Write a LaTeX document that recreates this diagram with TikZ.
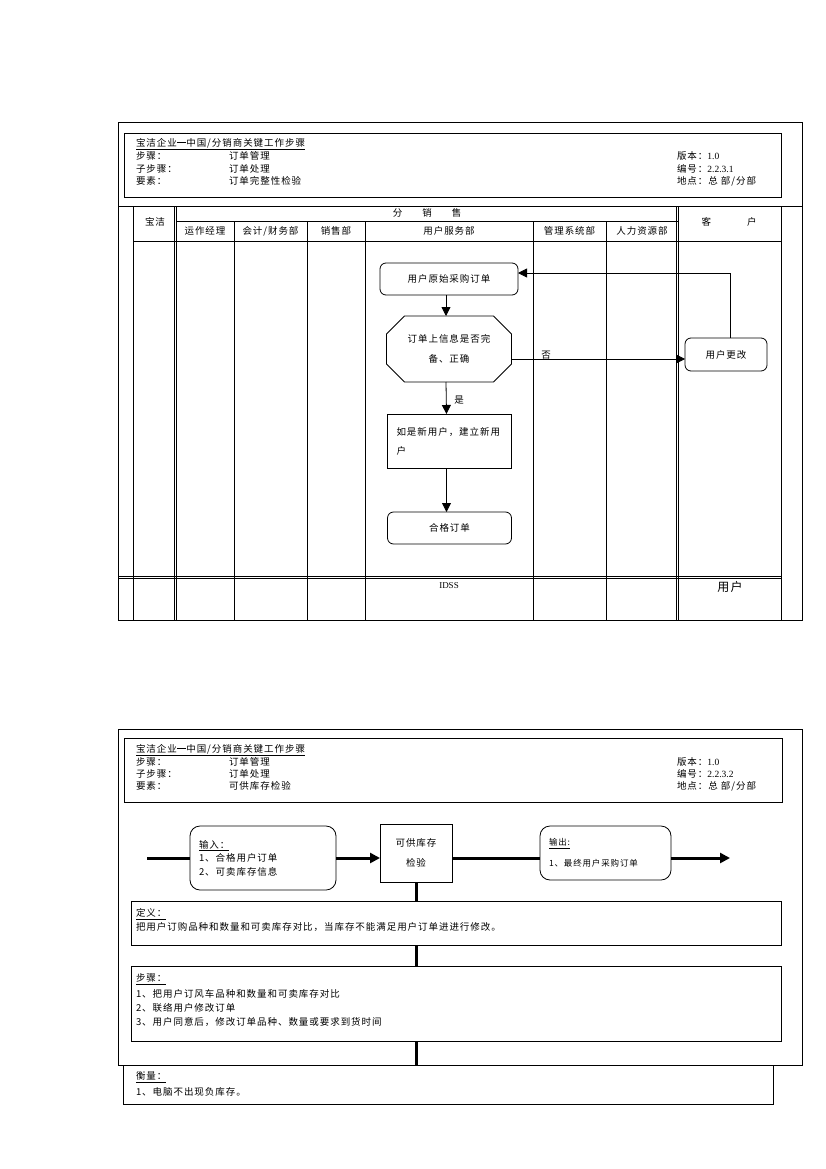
\documentclass[tikz,border=0pt]{standalone}
\usepackage{fontspec}
\setmainfont{Liberation Serif}
\newfontfamily\cjk[LetterSpace=10]{Noto Sans CJK SC}
\newcommand\cjkdash{\rule[0.38em]{1em}{0.45pt}}
\usetikzlibrary{arrows.meta}
\begin{document}
\begin{tikzpicture}[x=1pt,y=-1pt,
  every node/.style={inner sep=0pt, outer sep=0pt},
  txt/.style={anchor=west, font=\cjk\fontsize{9.5}{11}\selectfont},
  ctxt/.style={font=\cjk\fontsize{9.5}{11}\selectfont},
  ln/.style={line width=0.8pt},
  rbox/.style={draw, line width=0.8pt, rounded corners=6pt},
  sbox/.style={draw, line width=0.8pt},
  arr/.style={line width=0.8pt, -{Triangle[length=9pt,width=9pt]}},
  flow/.style={line width=3pt},
  flowarr/.style={line width=3pt, -{Triangle[length=10pt,width=10pt]}}
]
\path[use as bounding box, fill=white] (0,0) rectangle (826,1169);

% ===================== Diagram 1 =====================
\draw[ln] (118,122) rectangle (802,620);
\draw[ln] (124,133) rectangle (781,197);
\node[txt] (a1) at (136,144) {\underline{宝洁企业\cjkdash 中国/分销商关键工作步骤}};
\node[txt] (a2) at (136,156) {步骤：};
\node[txt] (a3) at (229,156) {订单管理};
\node[txt] (a4) at (136,169) {子步骤：};
\node[txt] (a5) at (229,169) {订单处理};
\node[txt] (a6) at (136,181) {要素：};
\node[txt] (a7) at (229,181) {订单完整性检验};
\node[txt] (a8) at (677,156) {版本：\rmfamily 1.0};
\node[txt] (a9) at (677,169) {编号：\rmfamily 2.2.3.1};
\node[txt] (a10) at (677,181) {地点：总 部/分部};

% table grid
\draw[ln] (118,206) -- (802,206);
\draw[ln] (176,221) -- (678,221);
\draw[ln] (133,241) -- (781,241);
\draw[ln] (118,576.5) -- (781,576.5);
\draw[ln] (118,578.5) -- (781,578.5);
\foreach \x in {133,174.5,176.5,676.5,678.5,781}
  \draw[ln] (\x,206) -- (\x,620);
\foreach \x in {234,307,365,533,606}
  \draw[ln] (\x,221) -- (\x,620);

% table headers
\node[ctxt] (b1) at (155,222) {宝洁};
\node[ctxt] (b2) at (427,213) {分\hspace{20pt}销\hspace{20pt}售};
\node[ctxt] (b3) at (205,231) {运作经理};
\node[ctxt] (b4) at (270.5,231) {会计/财务部};
\node[ctxt] (b5) at (336,231) {销售部};
\node[ctxt] (b6) at (449,231) {用户服务部};
\node[ctxt] (b7) at (569.5,231) {管理系统部};
\node[ctxt] (b8) at (642,231) {人力资源部};
\node[ctxt] (b9) at (729,222) {客\hspace{36pt}户};
\node[font=\rmfamily\fontsize{9}{10}\selectfont] (b10) at (449,586) {IDSS};
\node[font=\cjk\fontsize{12}{14}\selectfont] (b11) at (730,587) {用户};

% flowchart
\node[rbox, ctxt, minimum width=138pt, minimum height=32pt] (n1) at (449,279) {用户原始采购订单};
\node[ctxt, align=center, font=\cjk\fontsize{9.5}{20}\selectfont, minimum width=125pt, minimum height=66pt] (n2) at (449,349) {订单上信息是否完\\备、正确};
\draw[ln] ([xshift=18pt]n2.north west) -- ([xshift=-18pt]n2.north east) -- ([yshift=-18pt]n2.north east) -- ([yshift=18pt]n2.south east) -- ([xshift=-18pt]n2.south east) -- ([xshift=18pt]n2.south west) -- ([yshift=18pt]n2.south west) -- ([yshift=-18pt]n2.north west) -- cycle;
\node[sbox, font=\cjk\fontsize{9.5}{19}\selectfont, text width=106pt, align=left, minimum width=124pt, minimum height=54pt] (n3) at (449.5,441) {如是新用户，建立新用\\户};
\node[rbox, ctxt, minimum width=124pt, minimum height=32pt] (n4) at (449.5,528) {合格订单};
\node[rbox, ctxt, minimum width=82pt, minimum height=33pt] (n5) at (726,354.5) {用户更改};

\draw[arr] ([xshift=-3pt]n1.south) -- ([xshift=-3pt]n2.north);
\draw[arr] ([xshift=-3pt]n2.south) -- ([xshift=-3pt]n3.north) node[ctxt, pos=0.55, anchor=west, xshift=8pt] (l1) {是};
\draw[arr] ([xshift=-3pt]n3.south) -- ([xshift=-3pt]n4.north);
\draw[arr] ([yshift=-10pt]n2.east) -- ([yshift=-10pt]n2.east -| n5.west);
\node[ctxt] (l2) at (546,355) {否};
\draw[arr] ([xshift=4.5pt]n5.north) |- ([yshift=6pt]n1.east);

% ===================== Diagram 2 =====================
\draw[ln] (118,729) rectangle (802,1065);
\draw[ln] (124,738) rectangle (782,802);
\node[txt] (c1) at (136,750) {\underline{宝洁企业\cjkdash 中国/分销商关键工作步骤}};
\node[txt] (c2) at (136,762) {步骤：};
\node[txt] (c3) at (229,762) {订单管理};
\node[txt] (c4) at (136,774) {子步骤：};
\node[txt] (c5) at (229,774) {订单处理};
\node[txt] (c6) at (136,786) {要素：};
\node[txt] (c7) at (229,786) {可供库存检验};
\node[txt] (c8) at (677,762) {版本：\rmfamily 1.0};
\node[txt] (c9) at (677,774) {编号：\rmfamily 2.2.3.2};
\node[txt] (c10) at (677,786) {地点：总 部/分部};

\coordinate (s0) at (147,858);
\coordinate (e0) at (730,858);
\node[draw, line width=0.8pt, rounded corners=10pt, minimum width=146pt, minimum height=64pt,
      text width=128pt, align=left, font=\cjk\fontsize{9.5}{13.5}\selectfont] (in) at (263,858)
      {\underline{输入：}\\1、合格用户订单\\2、可卖库存信息};
\node[sbox, minimum width=72pt, minimum height=58pt, align=center, font=\cjk\fontsize{9.5}{20}\selectfont] (chk) at (416,853) {可供库存\\检验};
\node[draw, line width=0.8pt, rounded corners=10pt, minimum width=131pt, minimum height=54pt,
      text width=113pt, align=left, font=\cjk\fontsize{8.5}{21}\selectfont] (out) at (605.5,853)
      {\underline{输出:}\\1、最终用户采购订单};

\draw[flow] (s0) -- (in.west);
\draw[flowarr] (in.east) -- (in.east -| chk.west);
\draw[flow] (in.east -| chk.east) -- (in.east -| out.west);
\draw[flowarr] (in.east -| out.east) -- (e0);

\node[sbox, fill=white, minimum width=650pt, minimum height=44pt] (def) at (456,923) {};
\node[txt] (d1) at (136,914) {\underline{定义：}};
\node[txt] (d2) at (136,927) {把用户订购品种和数量和可卖库存对比，当库存不能满足用户订单进进行修改。};

\node[sbox, fill=white, minimum width=650pt, minimum height=75pt] (stp) at (456,1003.5) {};
\node[txt] (s1) at (136,979) {\underline{步骤：}};
\node[txt] (s2) at (136,994) {1、把用户订风车品种和数量和可卖库存对比};
\node[txt] (s3) at (136,1008) {2、联络用户修改订单};
\node[txt] (s4) at (136,1022) {3、用户同意后，修改订单品种、数量或要求到货时间};

\node[sbox, fill=white, minimum width=650pt, minimum height=39pt] (msr) at (448,1084.5) {};
\node[txt] (m1) at (136,1077) {\underline{衡量：}};
\node[txt] (m2) at (136,1092) {1、电脑不出现负库存。};

\draw[flow] (chk.south) -- (chk.south |- def.north);
\draw[flow] (chk.south |- def.south) -- (chk.south |- stp.north);
\draw[flow] (chk.south |- stp.south) -- (chk.south |- msr.north);
\end{tikzpicture}
\end{document}
